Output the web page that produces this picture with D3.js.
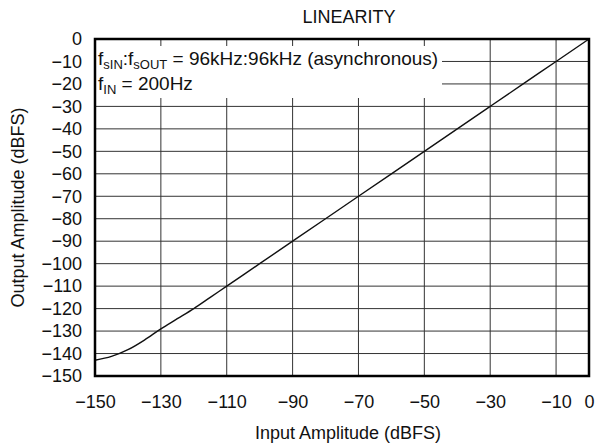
<!DOCTYPE html>
<html>
<head>
  <script type="text/javascript" src="https://cdn.jsdelivr.net/npm/d3@7"></script>
  <style>
    body { margin: 0; background: #fff; }
    text { font-family: "Liberation Sans", Arial, sans-serif; fill: #111; }
  </style>
</head>
<body>
  <div id="chart"></div>
  <script type="text/javascript">
    var w = 597;
    var h = 445;

    // data
    var inputLevel = [-150, -145, -140, -135, -130, -125, -120, -115, -110, -100, -90, -80, -70, -60, -50, -40, -30, -20, -10, 0];
    var outputLevel = [-143, -141.3, -138.3, -134, -129, -124.5, -120, -115, -110, -100, -90, -80, -70, -60, -50, -40, -30, -20, -10, 0];
    var xTicks = [-150, -130, -110, -90, -70, -50, -30, -10, 0];
    var xGrid = [-130, -110, -90, -70, -50, -30, -10];
    var yTicks = [0, -10, -20, -30, -40, -50, -60, -70, -80, -90, -100, -110, -120, -130, -140, -150];

    var pLeft = 95, pRight = 589, pTop = 39, pBottom = 376;
    var fs = "18px";

    var svg = d3.select("#chart").append("svg")
      .attr("width", w)
      .attr("height", h);

    var xScale = d3.scaleLinear().domain([-150, 0]).range([pLeft, pRight]);
    var yScale = d3.scaleLinear().domain([-150, 0]).range([pBottom, pTop]);

    // grid
    svg.append("g").selectAll("line")
      .data(yTicks.filter(function(d) { return d != 0 && d != -150; }))
      .enter().append("line")
      .attr("x1", pLeft).attr("x2", pRight)
      .attr("y1", function(d) { return yScale(d); })
      .attr("y2", function(d) { return yScale(d); })
      .attr("stroke", "#333").attr("stroke-width", 1);

    svg.append("g").selectAll("line")
      .data(xGrid)
      .enter().append("line")
      .attr("x1", function(d) { return xScale(d); })
      .attr("x2", function(d) { return xScale(d); })
      .attr("y1", pTop).attr("y2", pBottom)
      .attr("stroke", "#333").attr("stroke-width", 1);

    // legend box (white, covers the grid)
    svg.append("rect")
      .attr("x", pLeft).attr("y", 46)
      .attr("width", 347).attr("height", 52)
      .attr("fill", "#fff");

    var leg = svg.append("text").attr("x", 98).attr("y", 65).style("font-size", "19px");
    leg.append("tspan").text("f");
    leg.append("tspan").attr("dy", 4).style("font-size", "13px").text("sIN");
    leg.append("tspan").attr("dy", -4).text(":f");
    leg.append("tspan").attr("dy", 4).style("font-size", "13px").text("sOUT");
    leg.append("tspan").attr("dy", -4).text(" = 96kHz:96kHz (asynchronous)");

    var leg2 = svg.append("text").attr("x", 98).attr("y", 90).style("font-size", "19px");
    leg2.append("tspan").text("f");
    leg2.append("tspan").attr("dy", 4).style("font-size", "13px").text("IN");
    leg2.append("tspan").attr("dy", -4).text(" = 200Hz");

    // curve
    var line = d3.line()
      .x(function(d, i) { return xScale(inputLevel[i]); })
      .y(function(d) { return yScale(d); })
      .curve(d3.curveMonotoneX);

    svg.append("path")
      .datum(outputLevel)
      .attr("fill", "none")
      .attr("stroke", "#111")
      .attr("stroke-width", 1.4)
      .attr("d", line);

    // frame
    svg.append("rect")
      .attr("x", pLeft).attr("y", pTop)
      .attr("width", pRight - pLeft).attr("height", pBottom - pTop)
      .attr("fill", "none")
      .attr("stroke", "#000")
      .attr("stroke-width", 2.5);

    function fmt(d) { return d == 0 ? "0" : "\u2212" + Math.abs(d); }

    // axes
    var xAxis = d3.axisBottom(xScale)
      .tickValues(xTicks)
      .tickSize(0)
      .tickPadding(19)
      .tickFormat(fmt);
    var gx = svg.append("g")
      .attr("transform", "translate(0," + pBottom + ")")
      .call(xAxis);
    gx.select(".domain").remove();
    gx.selectAll("text").style("font-size", fs).attr("fill", "#111");
    gx.attr("font-family", null).attr("font-size", null);

    var yAxis = d3.axisLeft(yScale)
      .tickValues(yTicks)
      .tickSize(0)
      .tickPadding(13)
      .tickFormat(fmt);
    var gy = svg.append("g")
      .attr("transform", "translate(" + pLeft + ",0)")
      .call(yAxis);
    gy.select(".domain").remove();
    gy.selectAll("text").style("font-size", fs).attr("fill", "#111");
    gy.attr("font-family", null).attr("font-size", null);

    // titles
    svg.append("text")
      .attr("x", 349).attr("y", 23)
      .attr("text-anchor", "middle")
      .style("font-size", fs)
      .text("LINEARITY");

    svg.append("text")
      .attr("x", 348).attr("y", 439)
      .attr("text-anchor", "middle")
      .style("font-size", fs)
      .text("Input Amplitude (dBFS)");

    svg.append("text")
      .attr("transform", "translate(24," + ((pTop + pBottom) / 2) + ") rotate(-90)")
      .attr("text-anchor", "middle")
      .style("font-size", fs)
      .text("Output Amplitude (dBFS)");
  </script>
</body>
</html>
